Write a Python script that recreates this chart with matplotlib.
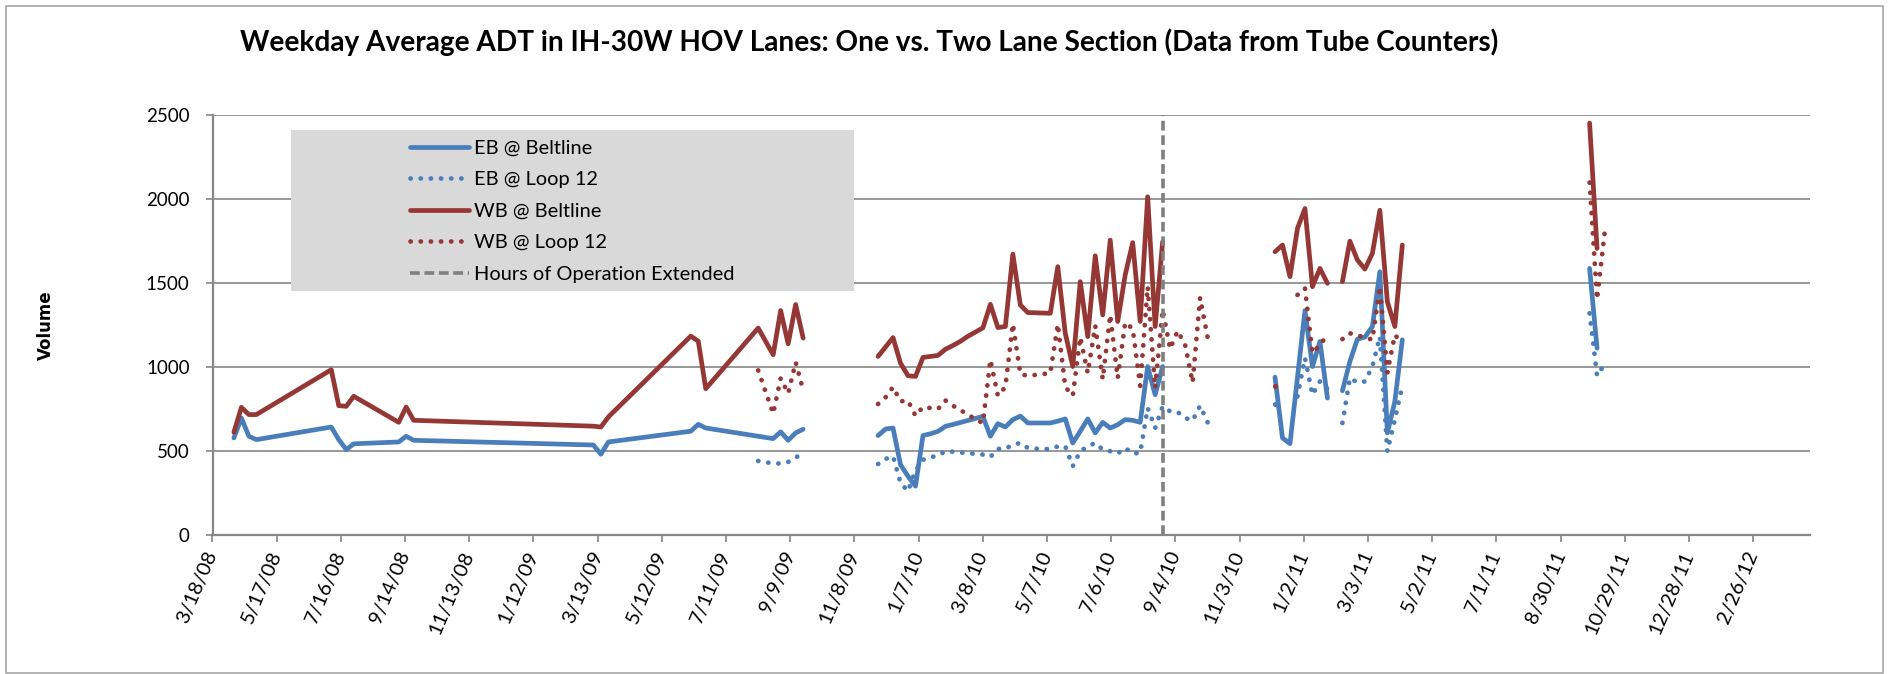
import numpy as np
import pandas as pd
import matplotlib
matplotlib.use("Agg")
import matplotlib.pyplot as plt
from matplotlib.patches import Rectangle
import matplotlib.transforms as mtransforms

# ---------------- data ----------------
dates = [
    # segment 1 (2008-2009)
    "2008-04-07", "2008-04-14", "2008-04-21", "2008-04-28",
    "2008-07-07", "2008-07-14", "2008-07-21", "2008-07-28",
    "2008-09-08", "2008-09-15", "2008-09-22",
    "2009-03-09", "2009-03-16", "2009-03-23",
    "2009-06-08", "2009-06-15", "2009-06-22",
    "2009-08-10", "2009-08-24", "2009-08-31", "2009-09-07", "2009-09-14", "2009-09-21",
    "2009-10-26",
    # segment 2 (weekly 2009-11-30 .. 2010-10-04)
    "2009-11-30", "2009-12-07", "2009-12-14", "2009-12-21", "2009-12-28",
    "2010-01-04", "2010-01-11", "2010-01-18", "2010-01-25", "2010-02-01",
    "2010-02-08", "2010-02-15", "2010-02-22", "2010-03-01", "2010-03-08",
    "2010-03-15", "2010-03-22", "2010-03-29", "2010-04-05", "2010-04-12",
    "2010-04-19", "2010-04-26", "2010-05-03", "2010-05-10", "2010-05-17",
    "2010-05-24", "2010-05-31", "2010-06-07", "2010-06-14", "2010-06-21",
    "2010-06-28", "2010-07-05", "2010-07-12", "2010-07-19", "2010-07-26",
    "2010-08-02", "2010-08-09", "2010-08-16", "2010-08-23", "2010-08-30",
    "2010-09-06", "2010-09-13", "2010-09-20", "2010-09-27", "2010-10-04",
    "2010-11-01",
    # segment 3 (weekly 2010-12-06 .. 2011-04-04)
    "2010-12-06", "2010-12-13", "2010-12-20", "2010-12-27", "2011-01-03",
    "2011-01-10", "2011-01-17", "2011-01-24", "2011-01-31", "2011-02-07",
    "2011-02-14", "2011-02-21", "2011-02-28", "2011-03-07", "2011-03-14",
    "2011-03-21", "2011-03-28", "2011-04-04",
    "2011-06-01",
    # segment 4
    "2011-09-26", "2011-10-03", "2011-10-10",
]

N = None
eb_beltline = [
    580, 699, 590, 570, 645, 570, 511, 545, 556, 590, 566,
    538, 483, 556, 620, 661, 639, 590, 576, 616, 566, 610, 632,
    N,
    594, 633, 639, 421, 352, 293, 594, 605, 619, 649, 660, 672, 684, 696, 708,
    590, 665, 645, 689, 710, 669, 669, 669, 669, 680, 693, 550, 620, 693, 610,
    673, 639, 659, 689, 685, 673, 1005, 837, 1005, N, N, N, N, N, N,
    N,
    942, 580, 546, 940, 1338, 1005, 1154, 817, N, 861, 1035, 1168, 1180, 1243,
    1569, 610, 797, 1164,
    N,
    1589, 1114, N,
]
eb_loop12 = [
    N, N, N, N, N, N, N, N, N, N, N,
    N, N, N, N, N, N, 443, 428, 428, 437, 463, 491,
    N,
    425, 455, 471, 313, 263, 386, 450, 465, 475, 501, 498, 493, 490, 485, 481,
    467, 515, 515, 540, 550, 520, 516, 514, 514, 530, 530, 412, 501, 530, 550,
    511, 501, 487, 520, 487, 491, 758, 639, 768, 738, 734, 699, 683, 772, 673,
    N,
    784, N, N, 827, 1055, 837, 916, 871, N, 669, 936, 910, 916, 1005,
    1183, 500, 689, 890,
    N,
    1322, 950, 1019,
]
wb_beltline = [
    614, 762, 719, 719, 986, 772, 768, 828, 673, 764, 685,
    650, 645, 705, 1186, 1156, 873, 1234, 1075, 1338, 1140, 1374, 1174,
    N,
    1065, 1121, 1177, 1025, 950, 946, 1059, 1065, 1071, 1108, 1130, 1155, 1185, 1210, 1235,
    1375, 1237, 1243, 1674, 1371, 1326, 1325, 1323, 1322, 1599, 1203, 1005, 1510, 1183, 1664,
    1312, 1757, 1273, 1550, 1742, 1273, 2015, 1243, 1748, N, N, N, N, N, N,
    N,
    1688, 1728, 1540, 1827, 1945, 1480, 1589, 1500, N, 1510, 1751, 1639, 1585, 1678,
    1935, 1391, 1243, 1728,
    N,
    2454, 1708, N,
]
wb_loop12 = [
    N, N, N, N, N, N, N, N, N, N, N,
    N, N, N, N, N, N, 982, 725, 935, 845, 1030, 865,
    N,
    782, 821, 883, 798, 802, 712, 764, 758, 752, 803, 772, 745, 720, 690, 669,
    1045, 831, 883, 1259, 960, 950, 955, 960, 966, 1257, 883, 831, 1179, 966, 1247,
    930, 1312, 936, 1267, 1230, 890, 1480, 877, 1342, 1110, 1217, 1134, 910, 1415, 1179,
    N,
    887, N, N, 1431, 1470, 1085, 1134, 1193, N, 1168, 1203, 1189, 1180, 1164,
    1480, 970, 1193, 1144,
    N,
    2100, 1405, 1797,
]

tick_labels = ["3/18/08", "5/17/08", "7/16/08", "9/14/08", "11/13/08", "1/12/09",
               "3/13/09", "5/12/09", "7/11/09", "9/9/09", "11/8/09", "1/7/10",
               "3/8/10", "5/7/10", "7/6/10", "9/4/10", "11/3/10", "1/2/11",
               "3/3/11", "5/2/11", "7/1/11", "8/30/11", "10/29/11", "12/28/11",
               "2/26/12"]
y_ticks = [0, 500, 1000, 1500, 2000, 2500]
extended_date = "2010-08-23"
x_start, x_end = "2008-03-18", "2012-04-19"

title = ("Weekday Average ADT in IH-30W HOV Lanes: One vs. Two Lane Section "
         "(Data from Tube Counters)")

# ---------------- styling ----------------
BLUE = "#4A7EBB"
RED = "#953735"
GRID = "#868686"
plt.rcParams["font.family"] = ["Lato", "DejaVu Sans"]

W, H = 1889, 674
fig = plt.figure(figsize=(W / 100, H / 100), dpi=100)
ax = fig.add_axes([212.5 / W, 1 - 535.4 / H, (1810 - 212.5) / W, (535.4 - 115.3) / H])

x = pd.to_datetime(dates)
def arr(v):
    return np.array([np.nan if e is None else e for e in v], dtype=float)

LW = 3.4
dot = (0, (0.05, 2.1))
series = [
    (eb_beltline, BLUE, "-", "EB @ Beltline"),
    (eb_loop12, BLUE, dot, "EB @ Loop 12"),
    (wb_beltline, RED, "-", "WB @ Beltline"),
    (wb_loop12, RED, dot, "WB @ Loop 12"),
]
for i, (vals, col, ls, lab) in enumerate(series):
    y = arr(vals)
    ax.plot(x, y, color=col, lw=LW, linestyle=ls, label=lab,
            solid_capstyle="round", solid_joinstyle="round",
            dash_capstyle="round", zorder=3 + i * 0.1)
    # isolated points (not visible as a line segment)
    ok = ~np.isnan(y)
    prev_ok = np.r_[False, ok[:-1]]
    next_ok = np.r_[ok[1:], False]
    iso = ok & ~prev_ok & ~next_ok
    if iso.any():
        ax.plot(x[iso], y[iso], "o", ms=LW * 1.1, color=col, mec="none",
                zorder=3 + i * 0.1, label="_nolegend_")

ax.axvline(pd.Timestamp(extended_date), color="#7F7F7F", lw=2.6,
           linestyle=(0, (2.7, 1.3)), label="Hours of Operation Extended", zorder=4)

ax.set_xlim(pd.Timestamp(x_start), pd.Timestamp(x_end))
ax.set_ylim(0, 2500)
ax.set_yticks(y_ticks)
ax.set_yticklabels([str(v) for v in y_ticks])
tick_pos = pd.to_datetime(tick_labels, format="%m/%d/%y")
ax.set_xticks(tick_pos)
ax.set_xticklabels(tick_labels, rotation=67, ha="right", va="center",
                   rotation_mode="anchor", fontsize=14.5)
offset = mtransforms.ScaledTranslation(4 / 100, 0, fig.dpi_scale_trans)
for lbl in ax.get_xticklabels():
    lbl.set_transform(lbl.get_transform() + offset)

ax.yaxis.grid(True, color=GRID, lw=1.2)
ax.set_axisbelow(True)
for s in ["top", "right"]:
    ax.spines[s].set_visible(False)
for s in ["left", "bottom"]:
    ax.spines[s].set_color(GRID)
    ax.spines[s].set_linewidth(1.6)
ax.tick_params(axis="both", colors=GRID, length=5, width=1.2, direction="out",
               labelcolor="black")
ax.tick_params(axis="y", pad=11.5, labelsize=13.5)
ax.tick_params(axis="x", pad=7)

# legend background + legend
ax.add_patch(Rectangle((291 / W, 1 - 291 / H), (854 - 291) / W, (291 - 130) / H,
                       transform=fig.transFigure, facecolor="#D9D9D9",
                       edgecolor="none", zorder=1.5))
leg = ax.legend(loc="upper left", bbox_to_anchor=(410 / W, 1 - 140 / H),
                bbox_transform=fig.transFigure, frameon=False, fontsize=14.4,
                handlelength=2.95, handletextpad=0.25, labelspacing=0.72,
                borderpad=0, borderaxespad=0)
leg.set_zorder(6)

# title, fitted to reference width
t = fig.text(869 / W, 1 - 42 / H, title, ha="center", va="center",
             fontsize=20, fontweight="bold")
fig.canvas.draw()
bb = t.get_window_extent(fig.canvas.get_renderer())
t.set_fontsize(20 * 1256 / bb.width)

fig.text(46 / W, 1 - 325 / H, "Volume", rotation=90, ha="center", va="center",
         fontsize=12, fontweight="bold", family="DejaVu Sans")

# chart border
fig.patches.append(Rectangle((6 / W, 1 / H), (1883 - 6) / W, (673 - 6) / H,
                             transform=fig.transFigure, fill=False,
                             edgecolor="#A6A6A6", lw=1.2))

fig.savefig("out.png", dpi=100)
